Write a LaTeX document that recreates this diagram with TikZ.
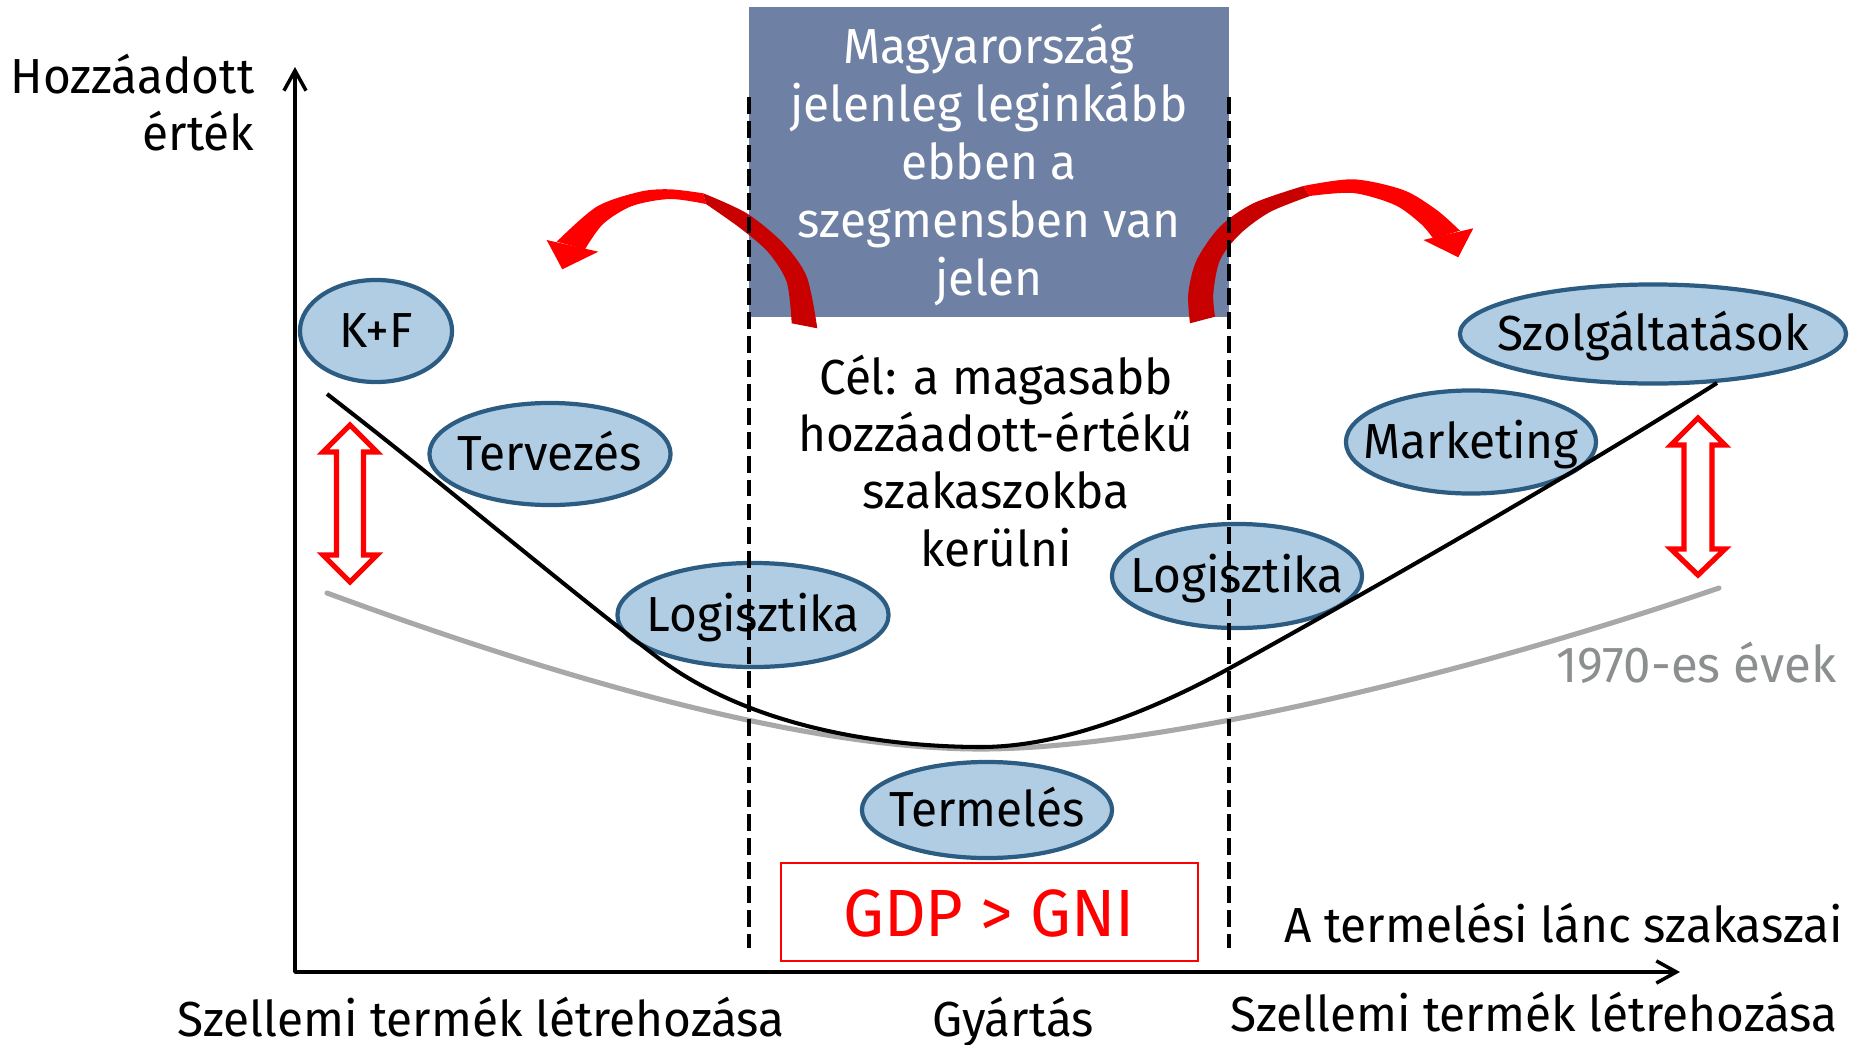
\documentclass[tikz,border=0pt]{standalone}
\usepackage{fontspec}
\setmainfont{Fira Sans}[FakeStretch=0.97]
\usetikzlibrary{shapes.geometric,arrows.meta}
\definecolor{boxblue}{RGB}{110,128,163}
\definecolor{ellfill}{RGB}{176,205,227}
\definecolor{elldraw}{RGB}{45,92,130}
\definecolor{darkred}{RGB}{200,0,0}
\definecolor{curvegray}{RGB}{168,168,168}
\definecolor{textgray}{RGB}{140,143,143}
\begin{document}
\begin{tikzpicture}[x=0.01cm,y=-0.01cm,
  blob/.style={ellipse,draw=elldraw,fill=ellfill,line width=1.2pt,inner sep=0pt},
  lbl/.style={font=\fontsize{14}{16.5}\selectfont,inner sep=0pt,text height=9.6pt,text depth=0pt},
  txt/.style={font=\fontsize{14}{16.5}\selectfont,inner sep=0pt,anchor=base},
  dashline/.style={line width=1.15pt,dash pattern=on 4.8pt off 2pt},
  dblarrow/.style={draw=red,fill=white,line width=1.5pt,line join=miter},
  axis/.style={line width=1pt,line join=round}
]
\useasboundingbox (0,0) rectangle (1853,1045);

% blue box
\node[fill=boxblue,minimum width=4.8cm,minimum height=3.1cm,inner sep=0pt] (box) at (989,162) {};
\foreach \t/\yy in {Magyarország/63,jelenleg leginkább/121,ebben a/179,szegmensben van/237,jelen/295}
  \node[txt,white] at (989,\yy) {\t};

% red curved arrow left
\fill[red] plot[smooth] coordinates {(556.7,241.7) (596.7,206.7) (640,191.7) (670,189.3) (703.3,193.3)}
  -- plot[smooth] coordinates {(706,204) (670,199) (632,206) (603,224) (585,249.3)} -- cycle;
\fill[darkred] plot[smooth] coordinates {(703.3,193.3) (746.7,213.3) (783.3,243.3) (806.7,276.7) (817.3,328.3)}
  -- plot[smooth] coordinates {(791.7,323.3) (786.7,282) (768,252) (740,228) (706,204)} -- cycle;
\fill[red] (546.7,240) -- (598.3,251.7) -- (562.3,269.3) -- cycle;

% red curved arrow right
\fill[darkred] plot[smooth] coordinates {(1190,323.3) (1188.3,293.3) (1196.7,260) (1220,226.7) (1253.3,203.3) (1303.3,186)}
  -- plot[smooth] coordinates {(1310,196) (1270,212) (1240,234) (1220,260) (1213.3,293.3) (1215,316.7)} -- cycle;
\fill[red] plot[smooth] coordinates {(1303.3,186) (1353.3,179.3) (1403.3,190) (1436.7,210) (1460,230.7)}
  -- plot[smooth] coordinates {(1433.3,238.7) (1421,224) (1395,205) (1353.3,193) (1310,196)} -- cycle;
\fill[red] (1423.3,240) -- (1473.3,228.3) -- (1458.3,257.3) -- cycle;

% ellipses
\node[blob,minimum width=1.52cm,minimum height=1.02cm] (kf) at (376,331) {};
\node[blob,minimum width=2.41cm,minimum height=1.02cm] (terv) at (550,454) {};
\node[blob,minimum width=2.71cm,minimum height=1.04cm] (logl) at (753,615) {};
\node[blob,minimum width=2.50cm,minimum height=0.96cm] (term) at (987,810) {};
\node[blob,minimum width=2.50cm,minimum height=1.04cm] (logr) at (1237,576) {};
\node[blob,minimum width=2.50cm,minimum height=1.03cm] (mark) at (1471,442) {};
\node[blob,minimum width=3.86cm,minimum height=0.99cm] (szolg) at (1653,334) {};
\node[lbl] at (kf) {K+F};
\node[lbl] at (terv) {Tervezés};
\node[lbl] at (logl) {Logisztika};
\node[lbl] at (term) {Termelés};
\node[lbl] at (logr) {Logisztika};
\node[lbl] at (mark) {Marketing};
\node[lbl] at (szolg) {Szolgáltatások};

% curves
\draw[curvegray,line width=1.45pt,line cap=round] (327,593) .. controls (550,675) and (800,749) .. (981,749)
  .. controls (1150,749) and (1450,680) .. (1719,588);
\draw[black,line width=1.15pt] (327,394) .. controls (440,481) and (560,583) .. (657,657)
  .. controls (757,733) and (900,747) .. (981,747)
  .. controls (1060,747) and (1150,712) .. (1230,668)
  .. controls (1380,585) and (1580,470) .. (1717,383);

% red double arrows
\draw[dblarrow] (350,425) -- (377,452) -- (363.5,452) -- (363.5,555) -- (377,555) -- (350,582) -- (323,555) -- (336.5,555) -- (336.5,452) -- (323,452) -- cycle;
\draw[dblarrow] (1698,418) -- (1725,445) -- (1712,445) -- (1712,549) -- (1725,549) -- (1698,575) -- (1671,549) -- (1684,549) -- (1684,445) -- (1671,445) -- cycle;

% goal text
\foreach \t/\yy in {Cél: a magasabb/394,hozzáadott-értékű/451,szakaszokba/508,kerülni/566}
  \node[txt] at (996,\yy) {\t};

% GDP box
\node[draw=red,line width=0.6pt,minimum width=4.17cm,minimum height=0.98cm,inner sep=0pt] (gdp) at (989.5,912) {};
\node[txt,red,font=\fontsize{19}{22}\selectfont] at (989,936) {GDP > GNI};

% axes
\coordinate (origin) at (295,972);
\coordinate (ytip) at (295,67);
\coordinate (xtip) at (1680,972);
\draw[axis,{Straight Barb[length=5.7pt,width=6.3pt]}-{Straight Barb[length=5.7pt,width=6.3pt]}] (ytip) -- (origin) -- (xtip);

% axis labels
\node[txt,anchor=base east] at (255,93) {Hozzáadott};
\node[txt,anchor=base east] at (255,150) {érték};
\node[txt,anchor=base east] at (1844,942) {A termelési lánc szakaszai};
\node[txt,anchor=base east,textgray,font=\fontsize{14.4}{17}\selectfont] at (1837,682) {1970-es évek};
\node[txt] at (481,1036) {Szellemi termék létrehozása};
\node[txt] at (1013,1036) {Gyártás};
\node[txt] at (1534,1031) {Szellemi termék létrehozása};

% dashed lines
\coordinate (d1t) at (749,97); \coordinate (d1b) at (749,948);
\coordinate (d2t) at (1229,97); \coordinate (d2b) at (1229,948);
\draw[dashline] (d1t) -- (d1b);
\draw[dashline] (d2t) -- (d2b);
\end{tikzpicture}
\end{document}
